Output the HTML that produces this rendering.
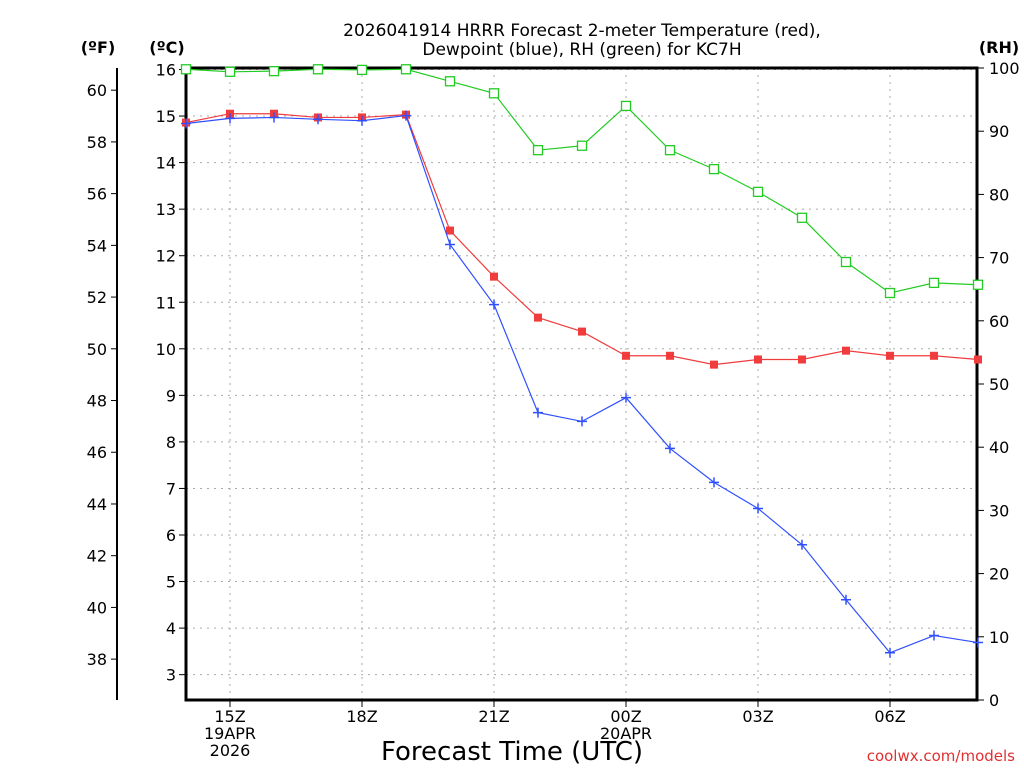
<!DOCTYPE html>
<html><head><meta charset="utf-8"><style>
body{margin:0;background:#fff;width:1024px;height:768px;overflow:hidden}
svg{display:block;font-family:"DejaVu Sans","Liberation Sans",sans-serif}
</style></head><body>
<svg id="c" width="1024" height="768">
<text x="582" y="36" text-anchor="middle" font-size="17">2026041914 HRRR Forecast 2-meter Temperature (red),</text>
<text x="582" y="55" text-anchor="middle" font-size="17">Dewpoint (blue), RH (green) for KC7H</text>
<text x="98" y="53" text-anchor="middle" font-size="16" font-weight="bold">(ºF)</text>
<text x="167" y="53" text-anchor="middle" font-size="16" font-weight="bold">(ºC)</text>
<text x="999" y="53" text-anchor="middle" font-size="16" font-weight="bold">(RH)</text>
<text x="512" y="760" text-anchor="middle" font-size="26">Forecast Time (UTC)</text>
<text x="1015" y="761" text-anchor="end" font-size="15" fill="#e03030">coolwx.com/models</text>
<g id="grid"></g><g id="axes"></g><g id="series"></g>
</svg>
<script>
const hours=[14,15,16,17,18,19,20,21,22,23,24,25,26,27,28,29,30,31,32];
const xTickLabels=["15Z","18Z","21Z","00Z","03Z","06Z"];
const xTickHours=[15,18,21,24,27,30];
const tempC=[14.86,15.05,15.05,14.97,14.97,15.03,12.54,11.55,10.67,10.37,9.85,9.85,9.66,9.77,9.77,9.96,9.85,9.85,9.77];
const dewC=[14.84,14.95,14.97,14.93,14.90,15.01,12.24,10.95,8.63,8.44,8.95,7.86,7.13,6.57,5.79,4.61,3.47,3.84,3.69];
const rh=[99.8,99.4,99.5,99.8,99.7,99.8,97.9,96.0,87.0,87.7,94.0,87.0,84.0,80.4,76.3,69.3,64.4,66.0,65.7];
const cTicks=[3,4,5,6,7,8,9,10,11,12,13,14,15,16];
const fTicks=[38,40,42,44,46,48,50,52,54,56,58,60];
const rhTicks=[0,10,20,30,40,50,60,70,80,90,100];
const L=186,R=977,T=68,B=700;
const X=h=>L+(h-14)*44;
const YC=c=>69.5+(16-c)*46.55;
const YF=f=>YC((f-32)*5/9);
const YR=r=>B-r*(B-T)/100;
const NS="http://www.w3.org/2000/svg";
function mk(p,tag,at){const e=document.createElementNS(NS,tag);for(const k in at)e.setAttribute(k,at[k]);p.appendChild(e);return e;}
const g=document.getElementById('grid'),ax=document.getElementById('axes'),s=document.getElementById('series');
cTicks.forEach(c=>{
 const l=mk(g,'line',{x1:L,x2:R,y1:YC(c),y2:YC(c),stroke:'#aaa','stroke-dasharray':'2 5'});
 
 
 mk(ax,'line',{x1:L-7,x2:L,y1:YC(c),y2:YC(c),stroke:'#000'});
 const t=mk(ax,'text',{x:L-10,y:YC(c)+6,'text-anchor':'end','font-size':16});t.textContent=c;
 
 
});
xTickHours.forEach((h,i)=>{
 const l=mk(g,'line',{x1:X(h),x2:X(h),y1:T,y2:B,stroke:'#aaa','stroke-dasharray':'2 5'});
 
 
 mk(ax,'line',{x1:X(h),x2:X(h),y1:B,y2:B+7,stroke:'#000'});
 const t=mk(ax,'text',{x:X(h),y:722,'text-anchor':'middle','font-size':16});t.textContent=xTickLabels[i];
 
 
});
[["19APR",230,739],["2026",230,756],["20APR",626,739]].forEach(a=>{const t=mk(ax,'text',{x:a[1],y:a[2],'text-anchor':'middle','font-size':16});t.textContent=a[0];
 
 });
fTicks.forEach(f=>{
 mk(ax,'line',{x1:111,x2:117,y1:YF(f),y2:YF(f),stroke:'#000'});
 const t=mk(ax,'text',{x:107,y:YF(f)+6,'text-anchor':'end','font-size':16});t.textContent=f;
 
 
});
mk(ax,'line',{x1:117,x2:117,y1:T,y2:B,stroke:'#000','stroke-width':2});
rhTicks.forEach(r=>{
 mk(ax,'line',{x1:R,x2:R+7,y1:YR(r),y2:YR(r),stroke:'#000'});
 const t=mk(ax,'text',{x:R+12,y:YR(r)+6,'font-size':16});t.textContent=r;
 
 
});
mk(ax,'rect',{x:L,y:T,width:R-L,height:B-T,fill:'none',stroke:'#000','stroke-width':3});
function series(vals,yf,color,mark,name){
 const pts=vals.map((v,i)=>X(hours[i])+','+yf(v)).join(' ');
 const pl=mk(s,'polyline',{points:pts,fill:'none',stroke:color,'stroke-width':1.2});
 
 
 vals.forEach((v,i)=>{
  const x=X(hours[i]),y=yf(v);let m;
  if(mark==='sq') m=mk(s,'rect',{x:x-4,y:y-4,width:8,height:8,fill:color});
  else if(mark==='open') m=mk(s,'rect',{x:x-4.5,y:y-4.5,width:9,height:9,fill:'#fff',stroke:color,'stroke-width':1.3});
  else m=mk(s,'path',{d:`M${x-5},${y}H${x+5}M${x},${y-5}V${y+5}`,stroke:color,'stroke-width':1.5});
  
  
 });
}
series(rh,YR,'#22cc22','open','rh');
series(tempC,YC,'#f03c3c','sq','temperature');
series(dewC,YC,'#3050ff','plus','dewpoint');
</script>
</body></html>
